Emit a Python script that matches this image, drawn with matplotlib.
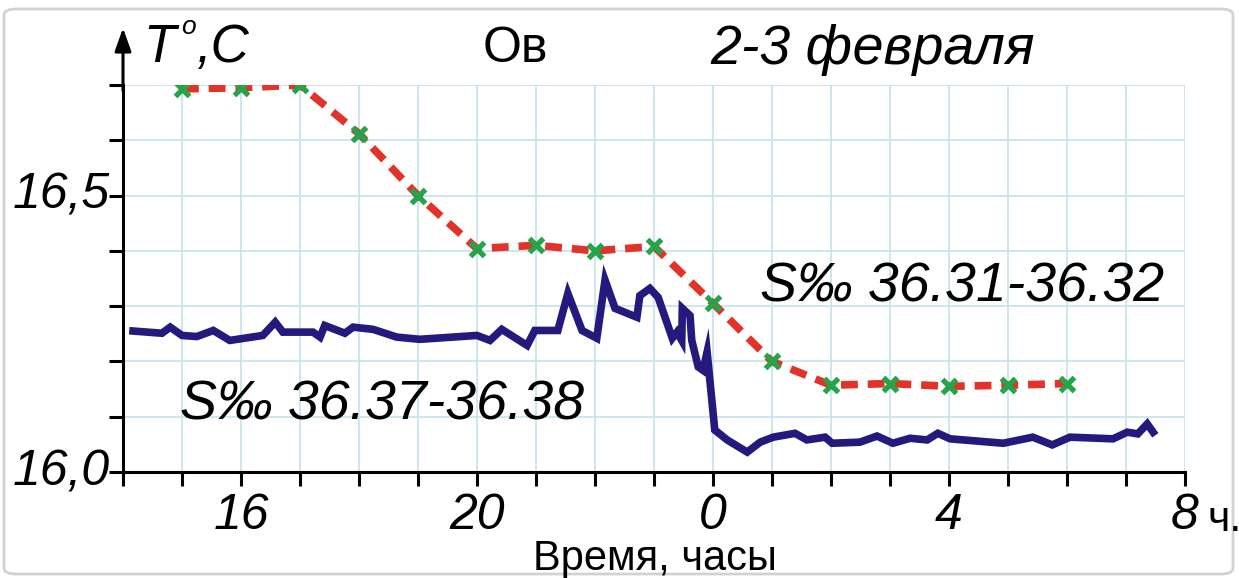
import matplotlib
matplotlib.use("Agg")
import matplotlib.pyplot as plt
from matplotlib.patches import FancyBboxPatch
import numpy as np

# data (hours counted from midnight of Feb 2, so 24 = 0 h of Feb 3)
red_hours = [15, 16, 17, 18, 19, 20, 21, 22, 23, 24, 25, 26, 27, 28, 29, 30]
red_temp = [16.693, 16.695, 16.700, 16.612, 16.500, 16.404, 16.410, 16.400,
            16.408, 16.305, 16.200, 16.157, 16.160, 16.155, 16.157, 16.160]

blue_hours = [14.17, 14.66, 14.80, 15.0, 15.25, 15.53, 15.81, 16.37, 16.58,
              16.71, 17.22, 17.34, 17.42, 17.76, 17.90, 18.24, 18.64, 19.03, 20.0,
              20.22, 20.42, 20.85, 20.98, 21.37, 21.54, 21.78, 22.03, 22.17, 22.34,
              22.71, 22.76, 22.93, 23.07, 23.31, 23.39, 23.47, 23.48, 23.61, 23.64,
              23.75, 23.83, 23.90, 24.03, 24.24, 24.58, 24.80, 25.02, 25.39, 25.59,
              25.90, 26.02, 26.49, 26.78, 27.05, 27.34, 27.63, 27.81, 28.02, 28.92,
              29.42, 29.75, 30.05, 30.78, 31.02, 31.20, 31.36, 31.46]
blue_temp = [16.255, 16.251, 16.262, 16.247, 16.245, 16.256, 16.238, 16.247, 16.271,
             16.253, 16.253, 16.244, 16.265, 16.251, 16.262, 16.258, 16.244, 16.240, 16.247,
             16.238, 16.258, 16.229, 16.256, 16.256, 16.323, 16.256, 16.242, 16.347, 16.296,
             16.280, 16.319, 16.332, 16.316, 16.242, 16.253, 16.238, 16.296, 16.283, 16.238,
             16.190, 16.184, 16.217, 16.076, 16.058, 16.036, 16.054, 16.063, 16.070, 16.058,
             16.063, 16.052, 16.054, 16.065, 16.052, 16.061, 16.058, 16.070, 16.060, 16.052,
             16.063, 16.049, 16.063, 16.060, 16.072, 16.069, 16.087, 16.072]

x_tick_pos = [16, 20, 24, 28, 32]
x_tick_labels = ["16", "20", "0", "4", "8"]
y_tick_pos = [16.0, 16.1, 16.2, 16.3, 16.4, 16.5, 16.6, 16.7]
y_tick_labels = ["16,0", "", "", "", "", "16,5", "", ""]

W, H = 1239, 578
SANS = ["Liberation Sans", "DejaVu Sans"]


def fx(px):
    return px / W


def fy(py):
    return 1 - py / H


fig = plt.figure(figsize=(W / 100, H / 100), dpi=100)
ax = fig.add_axes([fx(123), fy(472), fx(1185) - fx(123), fy(85) - fy(472)])

ax.set_xlim(14, 32)
ax.set_ylim(16.0, 16.7)

# light blue grid
grid_col = "#c5e3ec"
for h in range(15, 33):
    ax.axvline(h, color=grid_col, lw=1.2, zorder=0)
for t in y_tick_pos[1:]:
    ax.axhline(t, color=grid_col, lw=1.2, zorder=0)

# series
ax.plot(blue_hours, blue_temp, color="#241a7e", lw=5.5, solid_joinstyle="miter", zorder=3)
ax.plot(red_hours, red_temp, color="#e2322a", lw=5.5, dashes=(2.2, 1.3), zorder=4)
ax.plot(red_hours, red_temp, linestyle="none", marker="x", color="#27a34a",
        markersize=10, markeredgewidth=3.8, zorder=5)

# axes styling
for s in ["top", "right"]:
    ax.spines[s].set_visible(False)
ax.spines["left"].set_linewidth(2.2)
ax.spines["bottom"].set_linewidth(2.2)
ax.set_xticks(range(14, 33))
ax.set_xticklabels([""] * 19)
ax.set_yticks(y_tick_pos)
ax.set_yticklabels([""] * len(y_tick_pos))
ax.tick_params(axis="both", direction="out", length=10, width=2.2, color="black")

# y axis arrow
ax.annotate("", xy=(14, 16.803), xytext=(14, 16.69),
            arrowprops=dict(arrowstyle="-|>,head_length=1.4,head_width=0.5",
                            lw=2.2, color="black", shrinkA=0, shrinkB=0),
            annotation_clip=False)

# tick labels as text
for pos, lab in zip(x_tick_pos, x_tick_labels):
    ax.text(pos, -0.055, lab, transform=ax.get_xaxis_transform(), ha="center", va="top",
            fontsize=36, family=SANS, style="italic")
for pos, lab in zip(y_tick_pos, y_tick_labels):
    if lab:
        ax.text(-0.012, pos, lab, transform=ax.get_yaxis_transform(), ha="right", va="center",
                fontsize=36, family=SANS, style="italic")

fig.text(fx(1207), fy(531), "ч.", ha="left", va="baseline", fontsize=31, family=SANS)
fig.text(fx(655), fy(570), "Время, часы", ha="center", va="baseline", fontsize=30, family=SANS)

# annotations
fig.text(fx(143), fy(62), "T", ha="left", va="baseline", fontsize=38, family=SANS, style="italic")
fig.text(fx(181), fy(34), "o", ha="left", va="baseline", fontsize=19, family=SANS, style="italic")
fig.text(fx(196), fy(62), ",C", ha="left", va="baseline", fontsize=38, family=SANS, style="italic")
fig.text(fx(483), fy(62), "Ов", ha="left", va="baseline", fontsize=36, family=SANS)
fig.text(fx(710), fy(64), "2-3 февраля", ha="left", va="baseline", fontsize=40, family=SANS,
         style="italic")
fig.text(fx(760), fy(302), "S‰ 36.31-36.32", ha="left", va="baseline", fontsize=40,
         family=SANS, style="italic")
fig.text(fx(180), fy(420), "S‰ 36.37-36.38", ha="left", va="baseline", fontsize=40,
         family=SANS, style="italic")

# light frame round the picture
fig.patches.append(FancyBboxPatch((fx(4), fy(574)), fx(1233) - fx(4), fy(9) - fy(574),
                                  boxstyle="round,pad=0,rounding_size=0.01",
                                  transform=fig.transFigure, fill=False,
                                  edgecolor="#d2d2d2", lw=2))

fig.savefig("out.png", dpi=100)
